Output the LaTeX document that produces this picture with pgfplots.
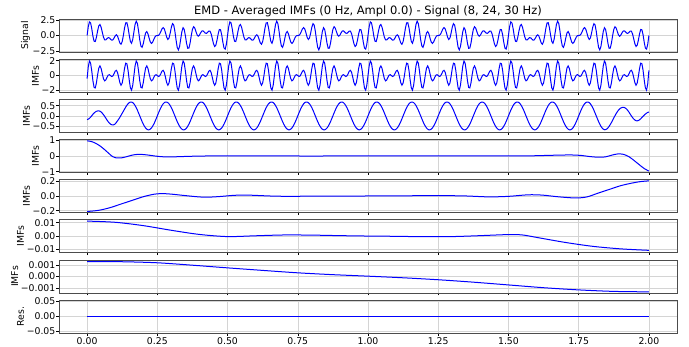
\documentclass[border=0pt]{standalone}
\usepackage{fontspec}
\setmainfont{DejaVu Sans}
\usepackage{pgfplots}
\usepackage{pgfplotstable}
\pgfplotsset{compat=1.18}

% t, signal, IMF1, IMF2
\pgfplotstableread{
t s f m
0 0 -0.40 -0.18
0.0042 1.436 1.150 -0.16
0.0083 2.228 1.951 -0.12
0.0125 2.058 1.658 -0.06
0.0167 1.093 0.588 0.01
0.0208 -0.118 -0.707 0.08
0.025 -0.941 -1.588 0.14
0.0292 -0.982 -1.658 0.19
0.0333 -0.275 -0.951 0.225
0.0375 0.766 0.119 0.24
0.0417 1.589 1.000 0.245
0.0458 1.800 1.295 0.23
0.05 1.351 0.951 0.19
0.0542 0.521 0.244 0.13
0.0583 -0.271 -0.412 0.06
0.0625 -0.707 -0.707 -0.02
0.0667 -0.729 -0.588 -0.11
0.0708 -0.521 -0.244 -0.20
0.075 -0.351 0.049 -0.28
0.0792 -0.386 0.119 -0.35
0.0833 -0.589 0 -0.40
0.0875 -0.766 -0.119 -0.43
0.0917 -0.725 -0.049 -0.44
0.0958 -0.432 0.244 -0.43
0.1 -0.059 0.588 -0.39
0.1042 0.118 0.707 -0.32
0.1083 -0.093 0.412 -0.24
0.1125 -0.644 -0.244 -0.16
0.1167 -1.228 -0.951 -0.07
0.1208 -1.436 -1.295 0.03
0.125 -1.000 -1.000 0.13
0.1292 0.022 -0.119 0.23
0.1333 1.228 0.951 0.33
0.1375 2.058 1.658 0.43
0.1417 2.093 1.588 0.52
0.1458 1.296 0.707 0.59
0.15 0.059 -0.588 0.645
0.1542 -0.982 -1.658 0.676
0.1583 -1.275 -1.951 0.676
0.1625 -0.648 -1.295 0.647
0.1667 0.589 0 0.589
0.1708 1.800 1.295 0.505
0.175 2.351 1.951 0.400
0.1792 1.935 1.658 0.277
0.1833 0.729 0.588 0.141
0.1875 -0.707 -0.707 0
0.1917 -1.729 -1.588 -0.141
0.1958 -1.935 -1.658 -0.277
0.2 -1.351 -0.951 -0.400
0.2042 -0.386 0.119 -0.505
0.2083 0.411 1.000 -0.589
0.2125 0.648 1.295 -0.647
0.2167 0.275 0.951 -0.676
0.2208 -0.432 0.244 -0.676
0.225 -1.059 -0.412 -0.647
0.2292 -1.296 -0.707 -0.589
0.2333 -1.093 -0.588 -0.505
0.2375 -0.644 -0.244 -0.400
0.2417 -0.228 0.049 -0.277
0.2458 -0.022 0.119 -0.141
0.25 0 0 0
0.2542 0.022 -0.119 0.141
0.2583 0.228 -0.049 0.277
0.2625 0.644 0.244 0.400
0.2667 1.093 0.588 0.505
0.2708 1.296 0.707 0.589
0.275 1.059 0.412 0.647
0.2792 0.432 -0.244 0.676
0.2833 -0.275 -0.951 0.676
0.2875 -0.648 -1.295 0.647
0.2917 -0.411 -1.000 0.589
0.2958 0.386 -0.119 0.505
0.3 1.351 0.951 0.400
0.3042 1.935 1.658 0.277
0.3083 1.729 1.588 0.141
0.3125 0.707 0.707 0
0.3167 -0.729 -0.588 -0.141
0.3208 -1.935 -1.658 -0.277
0.325 -2.351 -1.951 -0.400
0.3292 -1.800 -1.295 -0.505
0.3333 -0.589 0 -0.589
0.3375 0.648 1.295 -0.647
0.3417 1.275 1.951 -0.676
0.3458 0.982 1.658 -0.676
0.35 -0.059 0.588 -0.647
0.3542 -1.296 -0.707 -0.589
0.3583 -2.093 -1.588 -0.505
0.3625 -2.058 -1.658 -0.400
0.3667 -1.228 -0.951 -0.277
0.3708 -0.022 0.119 -0.141
0.375 1.000 1.000 0
0.3792 1.436 1.295 0.141
0.3833 1.228 0.951 0.277
0.3875 0.644 0.244 0.400
0.3917 0.093 -0.412 0.505
0.3958 -0.118 -0.707 0.589
0.4 0.059 -0.588 0.647
0.4042 0.432 -0.244 0.676
0.4083 0.725 0.049 0.676
0.4125 0.766 0.119 0.647
0.4167 0.589 0 0.589
0.4208 0.386 -0.119 0.505
0.425 0.351 -0.049 0.400
0.4292 0.521 0.244 0.277
0.4333 0.729 0.588 0.141
0.4375 0.707 0.707 0
0.4417 0.271 0.412 -0.141
0.4458 -0.521 -0.244 -0.277
0.45 -1.351 -0.951 -0.400
0.4542 -1.800 -1.295 -0.505
0.4583 -1.589 -1.000 -0.589
0.4625 -0.766 -0.119 -0.647
0.4667 0.275 0.951 -0.676
0.4708 0.982 1.658 -0.676
0.475 0.941 1.588 -0.647
0.4792 0.118 0.707 -0.589
0.4833 -1.093 -0.588 -0.505
0.4875 -2.058 -1.658 -0.400
0.4917 -2.228 -1.951 -0.277
0.4958 -1.436 -1.295 -0.141
0.5 0 0 0
0.5042 1.436 1.295 0.141
0.5083 2.228 1.951 0.277
0.5125 2.058 1.658 0.400
0.5167 1.093 0.588 0.505
0.5208 -0.118 -0.707 0.589
0.525 -0.941 -1.588 0.647
0.5292 -0.982 -1.658 0.676
0.5333 -0.275 -0.951 0.676
0.5375 0.766 0.119 0.647
0.5417 1.589 1.000 0.589
0.5458 1.800 1.295 0.505
0.55 1.351 0.951 0.400
0.5542 0.521 0.244 0.277
0.5583 -0.271 -0.412 0.141
0.5625 -0.707 -0.707 0
0.5667 -0.729 -0.588 -0.141
0.5708 -0.521 -0.244 -0.277
0.575 -0.351 0.049 -0.400
0.5792 -0.386 0.119 -0.505
0.5833 -0.589 0 -0.589
0.5875 -0.766 -0.119 -0.647
0.5917 -0.725 -0.049 -0.676
0.5958 -0.432 0.244 -0.676
0.6 -0.059 0.588 -0.647
0.6042 0.118 0.707 -0.589
0.6083 -0.093 0.412 -0.505
0.6125 -0.644 -0.244 -0.400
0.6167 -1.228 -0.951 -0.277
0.6208 -1.436 -1.295 -0.141
0.625 -1.000 -1.000 0
0.6292 0.022 -0.119 0.141
0.6333 1.228 0.951 0.277
0.6375 2.058 1.658 0.400
0.6417 2.093 1.588 0.505
0.6458 1.296 0.707 0.589
0.65 0.059 -0.588 0.647
0.6542 -0.982 -1.658 0.676
0.6583 -1.275 -1.951 0.676
0.6625 -0.648 -1.295 0.647
0.6667 0.589 0 0.589
0.6708 1.800 1.295 0.505
0.675 2.351 1.951 0.400
0.6792 1.935 1.658 0.277
0.6833 0.729 0.588 0.141
0.6875 -0.707 -0.707 0
0.6917 -1.729 -1.588 -0.141
0.6958 -1.935 -1.658 -0.277
0.7 -1.351 -0.951 -0.400
0.7042 -0.386 0.119 -0.505
0.7083 0.411 1.000 -0.589
0.7125 0.648 1.295 -0.647
0.7167 0.275 0.951 -0.676
0.7208 -0.432 0.244 -0.676
0.725 -1.059 -0.412 -0.647
0.7292 -1.296 -0.707 -0.589
0.7333 -1.093 -0.588 -0.505
0.7375 -0.644 -0.244 -0.400
0.7417 -0.228 0.049 -0.277
0.7458 -0.022 0.119 -0.141
0.75 0 0 0
0.7542 0.022 -0.119 0.141
0.7583 0.228 -0.049 0.277
0.7625 0.644 0.244 0.400
0.7667 1.093 0.588 0.505
0.7708 1.296 0.707 0.589
0.775 1.059 0.412 0.647
0.7792 0.432 -0.244 0.676
0.7833 -0.275 -0.951 0.676
0.7875 -0.648 -1.295 0.647
0.7917 -0.411 -1.000 0.589
0.7958 0.386 -0.119 0.505
0.8 1.351 0.951 0.400
0.8042 1.935 1.658 0.277
0.8083 1.729 1.588 0.141
0.8125 0.707 0.707 0
0.8167 -0.729 -0.588 -0.141
0.8208 -1.935 -1.658 -0.277
0.825 -2.351 -1.951 -0.400
0.8292 -1.800 -1.295 -0.505
0.8333 -0.589 0 -0.589
0.8375 0.648 1.295 -0.647
0.8417 1.275 1.951 -0.676
0.8458 0.982 1.658 -0.676
0.85 -0.059 0.588 -0.647
0.8542 -1.296 -0.707 -0.589
0.8583 -2.093 -1.588 -0.505
0.8625 -2.058 -1.658 -0.400
0.8667 -1.228 -0.951 -0.277
0.8708 -0.022 0.119 -0.141
0.875 1.000 1.000 0
0.8792 1.436 1.295 0.141
0.8833 1.228 0.951 0.277
0.8875 0.644 0.244 0.400
0.8917 0.093 -0.412 0.505
0.8958 -0.118 -0.707 0.589
0.9 0.059 -0.588 0.647
0.9042 0.432 -0.244 0.676
0.9083 0.725 0.049 0.676
0.9125 0.766 0.119 0.647
0.9167 0.589 0 0.589
0.9208 0.386 -0.119 0.505
0.925 0.351 -0.049 0.400
0.9292 0.521 0.244 0.277
0.9333 0.729 0.588 0.141
0.9375 0.707 0.707 0
0.9417 0.271 0.412 -0.141
0.9458 -0.521 -0.244 -0.277
0.95 -1.351 -0.951 -0.400
0.9542 -1.800 -1.295 -0.505
0.9583 -1.589 -1.000 -0.589
0.9625 -0.766 -0.119 -0.647
0.9667 0.275 0.951 -0.676
0.9708 0.982 1.658 -0.676
0.975 0.941 1.588 -0.647
0.9792 0.118 0.707 -0.589
0.9833 -1.093 -0.588 -0.505
0.9875 -2.058 -1.658 -0.400
0.9917 -2.228 -1.951 -0.277
0.9958 -1.436 -1.295 -0.141
1 0 0 0
1.0042 1.436 1.295 0.141
1.0083 2.228 1.951 0.277
1.0125 2.058 1.658 0.400
1.0167 1.093 0.588 0.505
1.0208 -0.118 -0.707 0.589
1.025 -0.941 -1.588 0.647
1.0292 -0.982 -1.658 0.676
1.0333 -0.275 -0.951 0.676
1.0375 0.766 0.119 0.647
1.0417 1.589 1.000 0.589
1.0458 1.800 1.295 0.505
1.05 1.351 0.951 0.400
1.0542 0.521 0.244 0.277
1.0583 -0.271 -0.412 0.141
1.0625 -0.707 -0.707 0
1.0667 -0.729 -0.588 -0.141
1.0708 -0.521 -0.244 -0.277
1.075 -0.351 0.049 -0.400
1.0792 -0.386 0.119 -0.505
1.0833 -0.589 0 -0.589
1.0875 -0.766 -0.119 -0.647
1.0917 -0.725 -0.049 -0.676
1.0958 -0.432 0.244 -0.676
1.1 -0.059 0.588 -0.647
1.1042 0.118 0.707 -0.589
1.1083 -0.093 0.412 -0.505
1.1125 -0.644 -0.244 -0.400
1.1167 -1.228 -0.951 -0.277
1.1208 -1.436 -1.295 -0.141
1.125 -1.000 -1.000 0
1.1292 0.022 -0.119 0.141
1.1333 1.228 0.951 0.277
1.1375 2.058 1.658 0.400
1.1417 2.093 1.588 0.505
1.1458 1.296 0.707 0.589
1.15 0.059 -0.588 0.647
1.1542 -0.982 -1.658 0.676
1.1583 -1.275 -1.951 0.676
1.1625 -0.648 -1.295 0.647
1.1667 0.589 0 0.589
1.1708 1.800 1.295 0.505
1.175 2.351 1.951 0.400
1.1792 1.935 1.658 0.277
1.1833 0.729 0.588 0.141
1.1875 -0.707 -0.707 0
1.1917 -1.729 -1.588 -0.141
1.1958 -1.935 -1.658 -0.277
1.2 -1.351 -0.951 -0.400
1.2042 -0.386 0.119 -0.505
1.2083 0.411 1.000 -0.589
1.2125 0.648 1.295 -0.647
1.2167 0.275 0.951 -0.676
1.2208 -0.432 0.244 -0.676
1.225 -1.059 -0.412 -0.647
1.2292 -1.296 -0.707 -0.589
1.2333 -1.093 -0.588 -0.505
1.2375 -0.644 -0.244 -0.400
1.2417 -0.228 0.049 -0.277
1.2458 -0.022 0.119 -0.141
1.25 0 0 0
1.2542 0.022 -0.119 0.141
1.2583 0.228 -0.049 0.277
1.2625 0.644 0.244 0.400
1.2667 1.093 0.588 0.505
1.2708 1.296 0.707 0.589
1.275 1.059 0.412 0.647
1.2792 0.432 -0.244 0.676
1.2833 -0.275 -0.951 0.676
1.2875 -0.648 -1.295 0.647
1.2917 -0.411 -1.000 0.589
1.2958 0.386 -0.119 0.505
1.3 1.351 0.951 0.400
1.3042 1.935 1.658 0.277
1.3083 1.729 1.588 0.141
1.3125 0.707 0.707 0
1.3167 -0.729 -0.588 -0.141
1.3208 -1.935 -1.658 -0.277
1.325 -2.351 -1.951 -0.400
1.3292 -1.800 -1.295 -0.505
1.3333 -0.589 0 -0.589
1.3375 0.648 1.295 -0.647
1.3417 1.275 1.951 -0.676
1.3458 0.982 1.658 -0.676
1.35 -0.059 0.588 -0.647
1.3542 -1.296 -0.707 -0.589
1.3583 -2.093 -1.588 -0.505
1.3625 -2.058 -1.658 -0.400
1.3667 -1.228 -0.951 -0.277
1.3708 -0.022 0.119 -0.141
1.375 1.000 1.000 0
1.3792 1.436 1.295 0.141
1.3833 1.228 0.951 0.277
1.3875 0.644 0.244 0.400
1.3917 0.093 -0.412 0.505
1.3958 -0.118 -0.707 0.589
1.4 0.059 -0.588 0.647
1.4042 0.432 -0.244 0.676
1.4083 0.725 0.049 0.676
1.4125 0.766 0.119 0.647
1.4167 0.589 0 0.589
1.4208 0.386 -0.119 0.505
1.425 0.351 -0.049 0.400
1.4292 0.521 0.244 0.277
1.4333 0.729 0.588 0.141
1.4375 0.707 0.707 0
1.4417 0.271 0.412 -0.141
1.4458 -0.521 -0.244 -0.277
1.45 -1.351 -0.951 -0.400
1.4542 -1.800 -1.295 -0.505
1.4583 -1.589 -1.000 -0.589
1.4625 -0.766 -0.119 -0.647
1.4667 0.275 0.951 -0.676
1.4708 0.982 1.658 -0.676
1.475 0.941 1.588 -0.647
1.4792 0.118 0.707 -0.589
1.4833 -1.093 -0.588 -0.505
1.4875 -2.058 -1.658 -0.400
1.4917 -2.228 -1.951 -0.277
1.4958 -1.436 -1.295 -0.141
1.5 0 0 0
1.5042 1.436 1.295 0.141
1.5083 2.228 1.951 0.277
1.5125 2.058 1.658 0.400
1.5167 1.093 0.588 0.505
1.5208 -0.118 -0.707 0.589
1.525 -0.941 -1.588 0.647
1.5292 -0.982 -1.658 0.676
1.5333 -0.275 -0.951 0.676
1.5375 0.766 0.119 0.647
1.5417 1.589 1.000 0.589
1.5458 1.800 1.295 0.505
1.55 1.351 0.951 0.400
1.5542 0.521 0.244 0.277
1.5583 -0.271 -0.412 0.141
1.5625 -0.707 -0.707 0
1.5667 -0.729 -0.588 -0.141
1.5708 -0.521 -0.244 -0.277
1.575 -0.351 0.049 -0.400
1.5792 -0.386 0.119 -0.505
1.5833 -0.589 0 -0.589
1.5875 -0.766 -0.119 -0.647
1.5917 -0.725 -0.049 -0.676
1.5958 -0.432 0.244 -0.676
1.6 -0.059 0.588 -0.647
1.6042 0.118 0.707 -0.589
1.6083 -0.093 0.412 -0.505
1.6125 -0.644 -0.244 -0.400
1.6167 -1.228 -0.951 -0.277
1.6208 -1.436 -1.295 -0.141
1.625 -1.000 -1.000 0
1.6292 0.022 -0.119 0.141
1.6333 1.228 0.951 0.277
1.6375 2.058 1.658 0.400
1.6417 2.093 1.588 0.505
1.6458 1.296 0.707 0.589
1.65 0.059 -0.588 0.647
1.6542 -0.982 -1.658 0.676
1.6583 -1.275 -1.951 0.676
1.6625 -0.648 -1.295 0.647
1.6667 0.589 0 0.589
1.6708 1.800 1.295 0.505
1.675 2.351 1.951 0.400
1.6792 1.935 1.658 0.277
1.6833 0.729 0.588 0.141
1.6875 -0.707 -0.707 0
1.6917 -1.729 -1.588 -0.141
1.6958 -1.935 -1.658 -0.277
1.7 -1.351 -0.951 -0.400
1.7042 -0.386 0.119 -0.505
1.7083 0.411 1.000 -0.589
1.7125 0.648 1.295 -0.647
1.7167 0.275 0.951 -0.676
1.7208 -0.432 0.244 -0.676
1.725 -1.059 -0.412 -0.647
1.7292 -1.296 -0.707 -0.589
1.7333 -1.093 -0.588 -0.505
1.7375 -0.644 -0.244 -0.400
1.7417 -0.228 0.049 -0.277
1.7458 -0.022 0.119 -0.141
1.75 0 0 0
1.7542 0.022 -0.119 0.141
1.7583 0.228 -0.049 0.277
1.7625 0.644 0.244 0.400
1.7667 1.093 0.588 0.505
1.7708 1.296 0.707 0.589
1.775 1.059 0.412 0.647
1.7792 0.432 -0.244 0.676
1.7833 -0.275 -0.951 0.676
1.7875 -0.648 -1.295 0.647
1.7917 -0.411 -1.000 0.589
1.7958 0.386 -0.119 0.505
1.8 1.351 0.951 0.400
1.8042 1.935 1.658 0.277
1.8083 1.729 1.588 0.141
1.8125 0.707 0.707 0
1.8167 -0.729 -0.588 -0.141
1.8208 -1.935 -1.658 -0.277
1.825 -2.351 -1.951 -0.400
1.8292 -1.800 -1.295 -0.505
1.8333 -0.589 0 -0.589
1.8375 0.648 1.295 -0.647
1.8417 1.275 1.951 -0.676
1.8458 0.982 1.658 -0.665
1.85 -0.059 0.588 -0.64
1.8542 -1.296 -0.707 -0.585
1.8583 -2.093 -1.588 -0.51
1.8625 -2.058 -1.658 -0.42
1.8667 -1.228 -0.951 -0.32
1.8708 -0.022 0.119 -0.21
1.875 1.000 1.000 -0.10
1.8792 1.436 1.295 0.01
1.8833 1.228 0.951 0.11
1.8875 0.644 0.244 0.20
1.8917 0.093 -0.412 0.28
1.8958 -0.118 -0.707 0.34
1.9 0.059 -0.588 0.385
1.9042 0.432 -0.244 0.41
1.9083 0.725 0.049 0.42
1.9125 0.766 0.119 0.41
1.9167 0.589 0 0.38
1.9208 0.386 -0.119 0.33
1.925 0.351 -0.049 0.26
1.9292 0.521 0.244 0.18
1.9333 0.729 0.588 0.09
1.9375 0.707 0.707 0.00
1.9417 0.271 0.412 -0.08
1.9458 -0.521 -0.244 -0.15
1.95 -1.351 -0.951 -0.20
1.9542 -1.800 -1.295 -0.235
1.9583 -1.589 -1.000 -0.24
1.9625 -0.766 -0.119 -0.225
1.9667 0.275 0.951 -0.19
1.9708 0.982 1.658 -0.14
1.975 0.941 1.588 -0.08
1.9792 0.118 0.707 -0.02
1.9833 -1.093 -0.588 0.04
1.9875 -2.058 -1.658 0.09
1.9917 -2.228 -1.951 0.135
1.9958 -1.436 -1.100 0.17
2 0 0.70 0.19
}\fastdata

\pgfplotstableread{
t v
0 0.96
0.015 0.92
0.03 0.81
0.045 0.65
0.06 0.44
0.075 0.2
0.09 -0.03
0.105 -0.13
0.12 -0.13
0.14 -0.05
0.16 0.05
0.18 0.1
0.2 0.09
0.22 0.05
0.24 0.0
0.26 -0.04
0.28 -0.06
0.3 -0.06
0.33 -0.045
0.36 -0.025
0.4 -0.01
0.45 0.005
0.5 0.01
0.6 0.005
0.7 0.0
0.8 -0.005
0.9 0.0
1.0 0.0
1.1 0.0
1.2 0.0
1.3 0.005
1.4 0.005
1.5 0.0
1.55 0.0
1.6 0.015
1.65 0.04
1.7 0.06
1.73 0.06
1.76 0.03
1.79 -0.04
1.82 -0.08
1.845 -0.06
1.87 0.06
1.89 0.13
1.91 0.1
1.93 -0.06
1.95 -0.33
1.97 -0.62
1.985 -0.82
2.0 -0.96
}\imfthree

\pgfplotstableread{
t v
0 -0.21
0.04 -0.195
0.08 -0.16
0.12 -0.11
0.16 -0.06
0.2 -0.01
0.24 0.025
0.27 0.032
0.3 0.025
0.35 0.005
0.4 -0.013
0.43 -0.016
0.47 -0.008
0.52 0.008
0.56 0.013
0.6 0.008
0.65 0.0
0.7 -0.004
0.8 -0.003
0.9 -0.002
1.0 0.0
1.1 0.002
1.2 0.004
1.27 0.005
1.35 0.0
1.43 -0.012
1.5 -0.005
1.57 0.016
1.62 0.012
1.68 -0.012
1.74 -0.027
1.78 -0.012
1.82 0.04
1.86 0.09
1.9 0.14
1.94 0.175
1.97 0.195
2.0 0.205
}\imffour

\pgfplotstableread{
t v
0 0.0112
0.1 0.0103
0.2 0.0078
0.3 0.0043
0.4 0.0012
0.5 -0.0004
0.6 0.0002
0.7 0.0008
0.8 0.0007
0.9 0.0003
1.0 0.0
1.1 -0.0002
1.2 -0.0005
1.3 -0.0004
1.4 0.0003
1.5 0.0011
1.55 0.0008
1.6 -0.0010
1.7 -0.0047
1.8 -0.0077
1.9 -0.0096
2.0 -0.0107
}\imffive

\pgfplotstableread{
t v
0 0.00129
0.125 0.00127
0.25 0.00118
0.375 0.00097
0.5 0.00074
0.625 0.00052
0.75 0.00031
0.875 0.00015
1.0 0.00002
1.125 -0.00012
1.25 -0.00029
1.375 -0.0005
1.5 -0.00074
1.625 -0.00098
1.75 -0.00117
1.875 -0.0013
2.0 -0.00134
}\imfsix

\pgfplotstableread{
t v
0 0
2 0
}\resid

\pgfplotsset{
  emd/.style={
    scale only axis, width=618pt, height=33pt,
    xmin=-0.1, xmax=2.1,
    xtick={0,0.25,0.5,0.75,1,1.25,1.5,1.75,2},
    xticklabels={},
    scaled y ticks=false, scaled x ticks=false,
    grid=major,
    major grid style={draw=black!17, line width=0.5pt},
    axis line style={draw=black!70, line width=0.6pt},
    tick align=outside,
    major tick length=2.5pt,
    tick style={black, line width=0.5pt},
    xtick pos=bottom, ytick pos=left,
    yticklabel style={font=\fontsize{9.3}{11}\selectfont, inner sep=1pt},
    xticklabel style={font=\fontsize{9.3}{11}\selectfont, inner sep=1.5pt},
    ylabel style={font=\fontsize{9.3}{11}\selectfont, inner sep=1.5pt},
    no markers,
    anchor=north west,
  },
  ln/.style={color=blue, line width=1pt},
}

\begin{document}
\begin{tikzpicture}
\path[use as bounding box] (-59pt,19pt) rectangle (630pt,-328pt);

\begin{axis}[emd, at={(0pt,0pt)}, ymin=-2.7, ymax=2.7,
  ytick={-2.5,0,2.5}, yticklabels={−2.5,0.0,2.5}, ylabel={Signal}]
\addplot[ln] table[x=t, y=s]{\fastdata};
\end{axis}

\begin{axis}[emd, at={(0pt,-40.15pt)}, ymin=-2.22, ymax=2.2,
  ytick={-2,0,2}, yticklabels={−2,0,2}, ylabel={IMFs}]
\addplot[ln] table[x=t, y=f]{\fastdata};
\end{axis}

\begin{axis}[emd, at={(0pt,-80.3pt)}, ymin=-0.8, ymax=0.81,
  ytick={-0.5,0,0.5}, yticklabels={−0.5,0.0,0.5}, ylabel={IMFs}]
\addplot[ln] table[x=t, y=m]{\fastdata};
\end{axis}

\begin{axis}[emd, at={(0pt,-120.45pt)}, ymin=-1.05, ymax=1.05,
  ytick={-1,0,1}, yticklabels={−1,0,1}, ylabel={IMFs}]
\addplot[ln, smooth] table[x=t, y=v]{\imfthree};
\end{axis}

\begin{axis}[emd, at={(0pt,-160.6pt)}, ymin=-0.225, ymax=0.222,
  ytick={-0.2,0,0.2}, yticklabels={−0.2,0.0,0.2}, ylabel={IMFs}]
\addplot[ln, smooth] table[x=t, y=v]{\imffour};
\end{axis}

\begin{axis}[emd, at={(0pt,-200.75pt)}, ymin=-0.0125, ymax=0.0122,
  ytick={-0.01,0,0.01}, yticklabels={−0.01,0.00,0.01}, ylabel={IMFs}]
\addplot[ln, smooth] table[x=t, y=v]{\imffive};
\end{axis}

\begin{axis}[emd, at={(0pt,-240.9pt)}, ymin=-0.00143, ymax=0.00143,
  ytick={-0.001,0,0.001}, yticklabels={−0.001,0.000,0.001}, ylabel={IMFs}]
\addplot[ln, smooth] table[x=t, y=v]{\imfsix};
\end{axis}

\begin{axis}[emd, at={(0pt,-281.05pt)}, ymin=-0.055, ymax=0.055,
  ytick={-0.05,0,0.05}, yticklabels={−0.05,0.00,0.05}, ylabel={Res.},
  xticklabels={0.00,0.25,0.50,0.75,1.00,1.25,1.50,1.75,2.00}]
\addplot[ln] table[x=t, y=v]{\resid};
\end{axis}

\node[anchor=base, font=\fontsize{11.5}{13}\selectfont] at (309pt,4pt)
  {EMD - Averaged IMFs (0 Hz, Ampl 0.0) - Signal (8, 24, 30 Hz)};
\end{tikzpicture}
\end{document}
